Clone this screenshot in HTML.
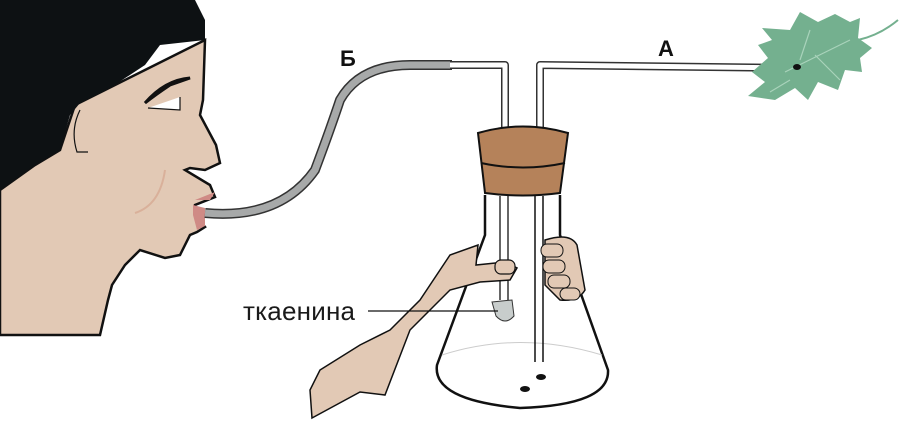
<!DOCTYPE html>
<html><head><meta charset="utf-8"><style>body{margin:0;background:#fff}svg{display:block}</style></head>
<body><svg width="906" height="432" viewBox="0 0 906 432" xmlns="http://www.w3.org/2000/svg" font-family="Liberation Sans, sans-serif">
<!-- face -->
<path d="M0,190 L35,165 L60,150 L75,105 L105,90 L145,70 L205,40 L203,100 L200,115 L216,145 L220,163 L205,170 L190,168 L185,170 L210,185 L215,197 L195,205 L195,215 L205,227 L197,232 L190,235 L180,255 L165,258 L140,250 L125,265 L112,285 L108,300 L100,335 L0,335 Z" fill="#e2c9b5" stroke="#111" stroke-width="2.5"/>
<path d="M0,0 L195,0 L205,20 L205,40 L160,45 L145,65 L110,88 L80,103 L70,115 L60,150 L35,165 L0,190 Z" fill="#0d1113"/>
<path d="M145,103 Q165,80 190,78 L170,85 Q155,95 145,103 Z" fill="#111" stroke="#111" stroke-width="3"/>
<path d="M148,108 L180,110 L180,97" fill="#fff" stroke="#111" stroke-width="1.2"/>
<path d="M80,110 Q70,130 77,152 L88,152" fill="none" stroke="#111" stroke-width="1.2"/>
<path d="M165,170 Q160,205 135,213" fill="none" stroke="#d9b09a" stroke-width="2"/>
<path d="M195,200 L215,192 L210,200 Z M193,205 L205,208 L205,226 L197,230 L193,215Z" fill="#cf8a85"/>
<!-- rubber tube -->
<path d="M205,213 Q280,220 315,170 Q330,130 340,100 Q360,65 410,65 L452,65" fill="none" stroke="#333" stroke-width="10"/>
<path d="M205,213 Q280,220 315,170 Q330,130 340,100 Q360,65 410,65 L452,65" fill="none" stroke="#a7a9a9" stroke-width="7"/>
<!-- glass tubes -->
<path d="M450,65 L505,65 L505,130" fill="none" stroke="#333" stroke-width="8" stroke-linejoin="round"/>
<path d="M450,65 L505,65 L505,130" fill="none" stroke="#fff" stroke-width="5" stroke-linejoin="round"/>
<path d="M540,130 L540,65 L790,68" fill="none" stroke="#333" stroke-width="8" stroke-linejoin="round"/>
<path d="M540,130 L540,65 L790,68" fill="none" stroke="#fff" stroke-width="5" stroke-linejoin="round"/>
<!-- leaf -->
<path d="M762,28 L790,30 L800,12 L818,22 L835,14 L850,22 L860,18 L858,38 L872,48 L860,58 L862,72 L845,70 L838,90 L818,82 L808,100 L795,88 L775,100 L748,96 L765,82 L752,72 L768,58 L758,45 L772,40 Z" fill="#74b08f"/>
<path d="M785,72 L850,40 M800,60 L810,30 M815,55 L840,80 M790,80 L770,92" stroke="#a9d3bb" stroke-width="1.2" fill="none"/>
<path d="M858,40 Q880,35 898,20" fill="none" stroke="#74b08f" stroke-width="2"/>
<ellipse cx="797" cy="67" rx="4" ry="3" fill="#111"/>
<!-- flask -->
<path d="M485,195 L485,235 L437,365 Q432,400 520,408 Q610,405 608,370 L560,235 L560,195" fill="#fff" stroke="#111" stroke-width="2.5"/>
<path d="M442,355 Q520,330 602,355" fill="none" stroke="#ccc" stroke-width="1"/>
<path d="M500,196 L500,300 M508,196 L508,300" stroke="#333" stroke-width="1.5"/>
<path d="M535,196 L535,362 M543,196 L543,362" stroke="#111" stroke-width="1.5"/>
<path d="M478,133 Q523,120 568,133 L560,193 Q523,198 485,193 Z" fill="#b5825a" stroke="#111" stroke-width="2"/>
<path d="M481,163 Q523,172 565,163" fill="none" stroke="#111" stroke-width="2"/>
<path d="M492,302 L512,300 L514,316 Q505,326 496,316 Z" fill="#c8cdcc" stroke="#333" stroke-width="1"/>
<ellipse cx="541" cy="377" rx="5" ry="3" fill="#111"/><ellipse cx="525" cy="389" rx="5" ry="3" fill="#111"/>
<!-- hands -->
<path d="M312,418 L360,392 L385,395 L410,330 L450,290 L480,282 L510,280 L517,268 L505,262 L476,265 L478,245 L450,255 L420,300 L390,330 L360,345 L320,370 L310,390 Z" fill="#e2c9b5" stroke="#111" stroke-width="1.5"/>
<rect x="495" y="260" width="20" height="14" rx="6" fill="#e2c9b5" stroke="#111" stroke-width="1.2"/>
<path d="M545,240 Q570,232 577,245 L585,290 Q578,302 560,300 L545,285 Z" fill="#e2c9b5" stroke="#111" stroke-width="1.5"/>
<rect x="541" y="244" width="22" height="13" rx="6" fill="#e2c9b5" stroke="#111" stroke-width="1"/>
<rect x="543" y="260" width="22" height="13" rx="6" fill="#e2c9b5" stroke="#111" stroke-width="1"/>
<rect x="548" y="275" width="22" height="13" rx="6" fill="#e2c9b5" stroke="#111" stroke-width="1"/>
<rect x="560" y="288" width="20" height="12" rx="6" fill="#e2c9b5" stroke="#111" stroke-width="1"/>
<!-- labels -->
<line x1="368" y1="311" x2="498" y2="311" stroke="#111" stroke-width="1.2"/>
<text x="243" y="320" font-size="26" fill="#1a1a1a" textLength="112">ткаенина</text>
<text x="340" y="66" font-size="22" font-weight="bold" fill="#111">Б</text>
<text x="658" y="56" font-size="22" font-weight="bold" fill="#111">А</text>
</svg></body></html>
